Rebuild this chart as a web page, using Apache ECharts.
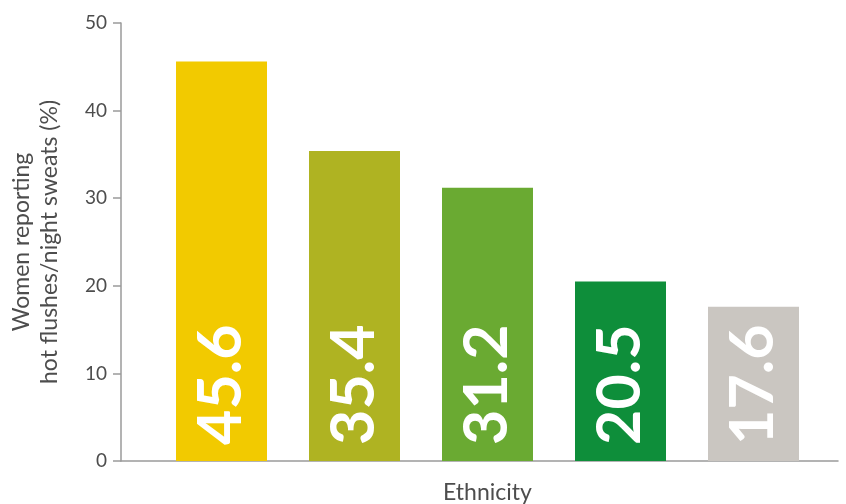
<!DOCTYPE html>
<html>
<head>
<meta charset="utf-8">
<script src="https://cdn.jsdelivr.net/npm/echarts@6/dist/echarts.min.js"></script>
<style>
  html, body { margin: 0; padding: 0; background: #ffffff; }
  #chart { width: 846px; height: 504px; }
</style>
</head>
<body>
<div id="chart"></div>
<script>
// Ethnic groups (not labelled on the axis) and share of women reporting symptoms
const categories = ['Group 1', 'Group 2', 'Group 3', 'Group 4', 'Group 5'];
const values = [45.6, 35.4, 31.2, 20.5, 17.6];
const barColors = ['#f2ca00', '#afb322', '#6aaa32', '#0e8e3a', '#cac6c1'];
const yTicks = [0, 10, 20, 30, 40, 50];

const FONT = 'Lato, "Noto Sans", sans-serif';
const AXIS_GREY = '#9a9a9a';
const TEXT_GREY = '#4d4d4d';

const chart = echarts.init(document.getElementById('chart'), null, { renderer: 'canvas' });

const option = {
  backgroundColor: '#ffffff',
  animation: false,
  textStyle: { fontFamily: FONT },
  grid: [
    // frame grid: carries the y axis and the full-length baseline
    { left: 121, right: 8, top: 23, bottom: 43, outerBoundsMode: 'none', containLabel: false },
    // bar grid: categories sit inside a narrower band
    { left: 155, right: 26, top: 23, bottom: 43, outerBoundsMode: 'none', containLabel: false }
  ],
  xAxis: [
    {
      gridIndex: 0, type: 'value', min: 0, max: 1,
      axisLine: { show: true, lineStyle: { color: AXIS_GREY, width: 1.5 } },
      axisTick: { show: false }, axisLabel: { show: false }, splitLine: { show: false }
    },
    {
      gridIndex: 1, type: 'category', data: categories,
      axisLine: { show: false }, axisTick: { show: false }, axisLabel: { show: false },
      name: 'Ethnicity', nameLocation: 'middle', nameGap: 20,
      nameTextStyle: { fontFamily: FONT, fontSize: 23, color: TEXT_GREY }
    }
  ],
  yAxis: [
    {
      gridIndex: 0, type: 'value', min: yTicks[0], max: yTicks[yTicks.length - 1], interval: 10,
      axisLine: { show: true, lineStyle: { color: AXIS_GREY, width: 1.5 } },
      axisTick: { show: true, length: 8, lineStyle: { color: AXIS_GREY, width: 1.5 } },
      axisLabel: { margin: 14, fontFamily: FONT, fontSize: 19, color: TEXT_GREY },
      splitLine: { show: false },
      name: 'Women reporting\nhot flushes/night sweats (%)',
      nameLocation: 'middle', nameGap: 57,
      nameTextStyle: { fontFamily: FONT, fontSize: 23, color: TEXT_GREY, lineHeight: 28 }
    },
    {
      gridIndex: 1, type: 'value', min: yTicks[0], max: yTicks[yTicks.length - 1],
      show: false
    }
  ],
  series: [
    {
      type: 'bar',
      xAxisIndex: 1, yAxisIndex: 1,
      barWidth: 91,
      data: values.map((v, i) => ({
        value: v,
        itemStyle: { color: barColors[i] }
      })),
      label: {
        show: true,
        position: 'insideBottom',
        rotate: 90,
        align: 'left',
        verticalAlign: 'middle',
        distance: 16,
        fontFamily: FONT,
        fontWeight: 'bold',
        fontSize: 61,
        color: '#ffffff',
        formatter: p => p.value.toFixed(1)
      }
    }
  ]
};

chart.setOption(option);
</script>
</body>
</html>
